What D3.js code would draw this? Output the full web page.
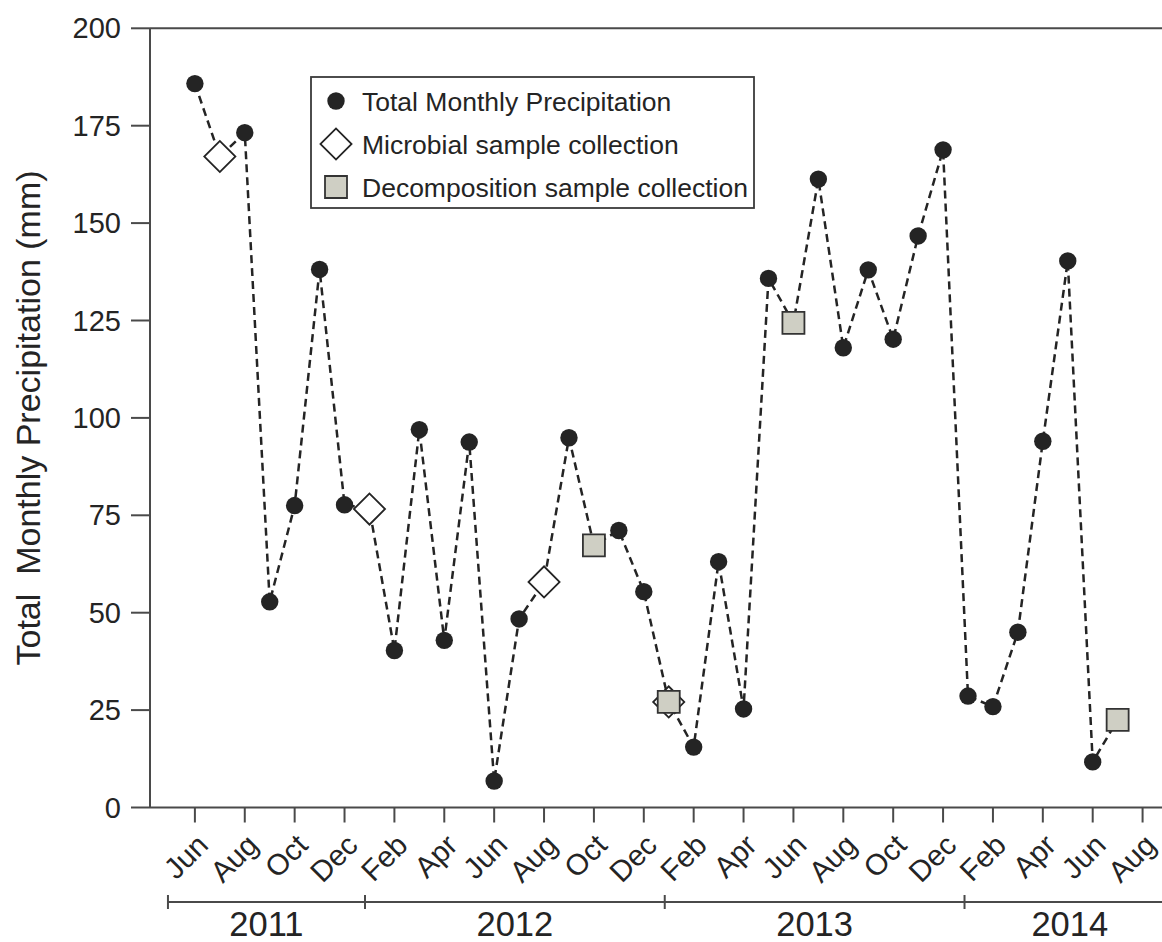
<!DOCTYPE html>
<html>
<head>
<meta charset="utf-8">
<script src="https://cdn.jsdelivr.net/npm/d3@7"></script>
<style>
  html, body { margin: 0; padding: 0; background: #fff; }
  svg { display: block; font-family: "Liberation Sans", Arial, Helvetica, sans-serif; }
</style>
</head>
<body>
<svg id="chart" width="1162" height="942"></svg>
<script>
// Monthly observations, June 2011 through July 2014
const months = [
  "2011-06","2011-07","2011-08","2011-09","2011-10","2011-11","2011-12",
  "2012-01","2012-02","2012-03","2012-04","2012-05","2012-06","2012-07","2012-08","2012-09","2012-10","2012-11","2012-12",
  "2013-01","2013-02","2013-03","2013-04","2013-05","2013-06","2013-07","2013-08","2013-09","2013-10","2013-11","2013-12",
  "2014-01","2014-02","2014-03","2014-04","2014-05","2014-06","2014-07"
];

// Total monthly precipitation (mm)
const precipitation = [
  185.8, 167.1, 173.2, 52.8, 77.5, 138.1, 77.7,
  76.6, 40.3, 97.0, 42.9, 93.8, 6.8, 48.4, 57.9, 94.9, 67.3, 71.1, 55.4,
  27.1, 15.5, 63.1, 25.3, 135.8, 124.4, 161.3, 118.0, 138.0, 120.2, 146.7, 168.8,
  28.6, 25.9, 45.0, 94.0, 140.3, 11.7, 22.5
];

// Months in which samples were collected
const microbialMonths = ["2011-07", "2012-01", "2012-08", "2013-01"];
const decompositionMonths = ["2012-10", "2013-01", "2013-06", "2014-07"];

// Bottom axis tick labels (every second month, Jun 2011 - Aug 2014)
const tickLabels = [
  "Jun","Aug","Oct","Dec","Feb","Apr","Jun","Aug","Oct","Dec",
  "Feb","Apr","Jun","Aug","Oct","Dec","Feb","Apr","Jun","Aug"
];
const yTicks = [0, 25, 50, 75, 100, 125, 150, 175, 200];

// Calendar years and their extents, in month-index units
const years = ["2011", "2012", "2013", "2014"];
const yearEdges = [-1.08, 6.82, 18.84, 30.86, 39.3];

const legendLabels = [
  "Total Monthly Precipitation",
  "Microbial sample collection",
  "Decomposition sample collection"
];

const svg = d3.select("#chart");
const axisColor = "#4a4a4a";
const inkColor = "#242424";

const x = d3.scaleLinear().domain([-1.8, 39.3]).range([150, 1175]);
const y = d3.scaleLinear().domain([0, 200]).range([807.5, 28.3]);

// Frame: left axis, top line, bottom baseline
svg.append("line")
  .attr("x1", x.range()[0]).attr("x2", x.range()[0])
  .attr("y1", y(0)).attr("y2", y(200))
  .attr("stroke", axisColor).attr("stroke-width", 2);
svg.append("line")
  .attr("x1", x.range()[0]).attr("x2", x.range()[1])
  .attr("y1", y(200)).attr("y2", y(200))
  .attr("stroke", axisColor).attr("stroke-width", 2);
svg.append("line")
  .attr("x1", x.range()[0]).attr("x2", x.range()[1])
  .attr("y1", y(0)).attr("y2", y(0))
  .attr("stroke", axisColor).attr("stroke-width", 2);

// Y axis ticks and labels
const yAxis = svg.append("g");
yAxis.selectAll("line").data(yTicks).join("line")
  .attr("x1", 131).attr("x2", 150)
  .attr("y1", d => y(d)).attr("y2", d => y(d))
  .attr("stroke", axisColor).attr("stroke-width", 2);
yAxis.selectAll("text").data(yTicks).join("text")
  .attr("x", 121).attr("y", d => y(d))
  .attr("dy", "0.35em")
  .attr("text-anchor", "end")
  .attr("font-size", 29)
  .attr("fill", inkColor)
  .text(d => d);

// Y axis title
svg.append("text")
  .attr("transform", `translate(40,418) rotate(-90)`)
  .attr("text-anchor", "middle")
  .attr("font-size", 34)
  .attr("fill", inkColor)
  .style("white-space", "pre")
  .text("Total  Monthly Precipitation (mm)");

// X axis ticks (every other month) and rotated labels
const xAxis = svg.append("g");
xAxis.selectAll("line").data(tickLabels).join("line")
  .attr("x1", (d, i) => x(i * 2)).attr("x2", (d, i) => x(i * 2))
  .attr("y1", y(0)).attr("y2", y(0) + 15)
  .attr("stroke", axisColor).attr("stroke-width", 2);
xAxis.selectAll("text").data(tickLabels).join("text")
  .attr("transform", (d, i) => `translate(${x(i * 2) + 15},847) rotate(-45)`)
  .attr("text-anchor", "end")
  .attr("font-size", 29.5)
  .attr("fill", inkColor)
  .text(d => d);

// Year brackets
const yearG = svg.append("g");
yearG.append("line")
  .attr("x1", x(yearEdges[0])).attr("x2", x(yearEdges[yearEdges.length - 1]))
  .attr("y1", 902).attr("y2", 902)
  .attr("stroke", axisColor).attr("stroke-width", 2);
yearG.selectAll("line.edge").data(yearEdges).join("line")
  .attr("class", "edge")
  .attr("x1", d => x(d)).attr("x2", d => x(d))
  .attr("y1", 895).attr("y2", 909)
  .attr("stroke", axisColor).attr("stroke-width", 2);
yearG.selectAll("text").data(years).join("text")
  .attr("x", (d, i) => (x(yearEdges[i]) + x(yearEdges[i + 1])) / 2)
  .attr("y", 936)
  .attr("text-anchor", "middle")
  .attr("font-size", 34.5)
  .attr("fill", inkColor)
  .text(d => d);

// Monthly data records
const data = months.map((m, i) => ({
  month: m,
  index: i,
  value: precipitation[i],
  microbial: microbialMonths.includes(m),
  decomposition: decompositionMonths.includes(m)
}));

// Dashed connecting line
const line = d3.line().x(d => x(d.index)).y(d => y(d.value));
svg.append("path")
  .datum(data)
  .attr("d", line)
  .attr("fill", "none")
  .attr("stroke", inkColor)
  .attr("stroke-width", 2.5)
  .attr("stroke-dasharray", "8,5");

const squareSym = d3.symbol().type(d3.symbolSquare).size(22 * 22);

// Precipitation points (months without a sample collection)
svg.append("g").selectAll("circle")
  .data(data.filter(d => !d.microbial && !d.decomposition))
  .join("circle")
  .attr("cx", d => x(d.index)).attr("cy", d => y(d.value))
  .attr("r", 8.7)
  .attr("fill", inkColor);

// Microbial sample collection (diamonds)
svg.append("g").selectAll("path")
  .data(data.filter(d => d.microbial))
  .join("path")
  .attr("d", squareSym)
  .attr("transform", d => `translate(${x(d.index)},${y(d.value)}) rotate(45)`)
  .attr("fill", "#fff")
  .attr("stroke", inkColor)
  .attr("stroke-width", 1.8);

// Decomposition sample collection (squares)
svg.append("g").selectAll("path")
  .data(data.filter(d => d.decomposition))
  .join("path")
  .attr("d", squareSym)
  .attr("transform", d => `translate(${x(d.index)},${y(d.value)})`)
  .attr("fill", "#cfcfc4")
  .attr("stroke", "#333")
  .attr("stroke-width", 1.8);

// Legend
const legend = svg.append("g");
legend.append("rect")
  .attr("x", 311).attr("y", 77).attr("width", 443).attr("height", 131)
  .attr("fill", "#fff")
  .attr("stroke", "#3a3a3a").attr("stroke-width", 1.8);
const rowY = [101, 144, 187];
legend.append("circle")
  .attr("cx", 336).attr("cy", rowY[0]).attr("r", 8.7).attr("fill", inkColor);
legend.append("path")
  .attr("d", squareSym)
  .attr("transform", `translate(336,${rowY[1]}) rotate(45)`)
  .attr("fill", "#fff").attr("stroke", inkColor).attr("stroke-width", 1.8);
legend.append("path")
  .attr("d", squareSym)
  .attr("transform", `translate(336,${rowY[2]})`)
  .attr("fill", "#cfcfc4").attr("stroke", "#333").attr("stroke-width", 1.8);
legend.selectAll("text").data(legendLabels).join("text")
  .attr("x", 362).attr("y", (d, i) => rowY[i])
  .attr("dy", "0.36em")
  .attr("font-size", 26.5)
  .attr("fill", inkColor)
  .text(d => d);
</script>
</body>
</html>
